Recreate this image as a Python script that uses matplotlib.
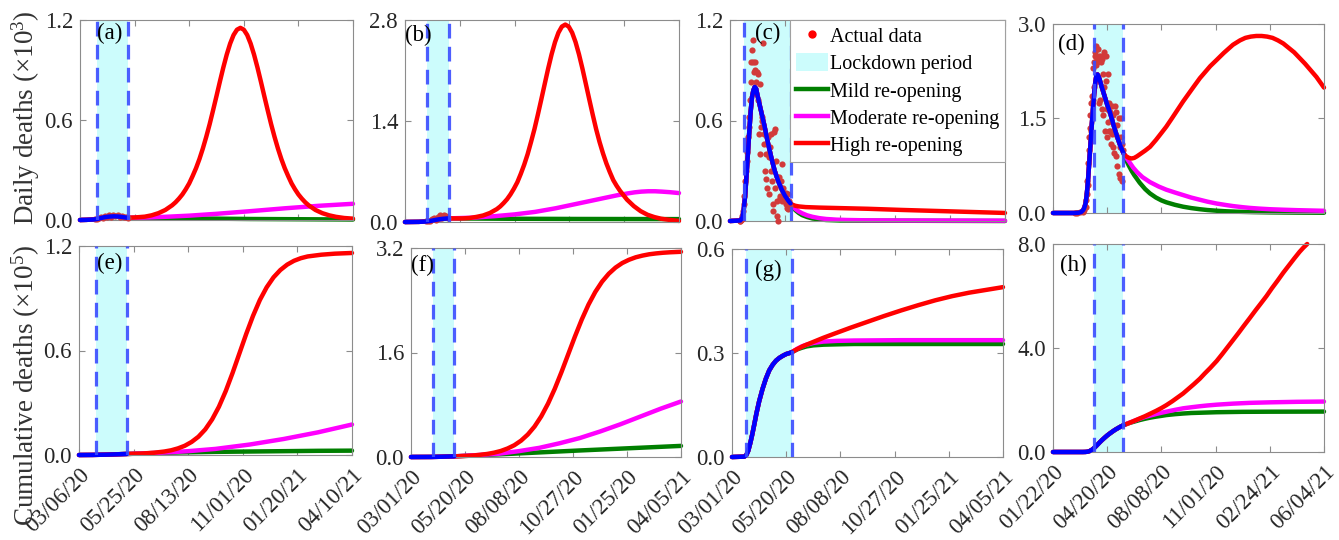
import numpy as np
import matplotlib
matplotlib.use('Agg')
import matplotlib.pyplot as plt
from matplotlib.lines import Line2D
from matplotlib.patches import Patch

plt.rcParams['font.family'] = ['Liberation Serif', 'DejaVu Serif']
plt.rcParams['mathtext.fontset'] = 'custom'
plt.rcParams['mathtext.rm'] = 'Liberation Serif'
plt.rcParams['mathtext.it'] = 'Liberation Serif:italic'

# ------------------------------------------------------------------ data
# x values are days since the first date on each panel's x axis
# daily deaths in units of 10^3, cumulative deaths in units of 10^5

# ---- column 1 (panels a, e)
a_fit_d = [0, 10, 20, 25, 30, 35, 40, 45, 50, 55, 60, 65, 70]
a_fit_v = [0.0, 0.001, 0.003, 0.006, 0.011, 0.016, 0.019, 0.021, 0.022, 0.021, 0.019, 0.016, 0.013]
a_data_d = [22, 25, 28, 31, 34, 37, 40, 43, 46, 49, 52, 55, 58, 61, 64, 67, 70]
a_data_v = [0.004, 0.008, 0.01, 0.018, 0.012, 0.025, 0.02, 0.03, 0.016, 0.028, 0.022, 0.03, 0.018, 0.026, 0.02, 0.015, 0.01]
a_mild_d = [70, 100, 150, 200, 250, 300, 350, 400]
a_mild_v = [0.013, 0.012, 0.01, 0.008, 0.006, 0.005, 0.004, 0.003]
a_mod_d = [70, 100, 130, 160, 200, 250, 300, 350, 400]
a_mod_v = [0.013, 0.015, 0.02, 0.026, 0.037, 0.053, 0.07, 0.085, 0.097]
a_high_d = [70, 80, 95, 105, 115, 125, 135, 140, 145, 150, 155, 160, 165, 170, 175, 180, 185, 190,
            195, 200, 205, 210, 215, 220, 225, 230, 235, 240, 245, 250, 255, 260, 265, 270, 275,
            280, 285, 290, 295, 300, 305, 310, 315, 320, 325, 330, 335, 345, 355, 365, 375, 387, 400]
a_high_v = [0.013, 0.015, 0.02, 0.028, 0.041, 0.06, 0.088, 0.106, 0.128, 0.153, 0.184, 0.219,
            0.263, 0.31, 0.365, 0.428, 0.498, 0.574, 0.657, 0.742, 0.829, 0.913, 0.99, 1.056,
            1.107, 1.139, 1.15, 1.139, 1.107, 1.056, 0.99, 0.913, 0.829, 0.742, 0.657, 0.574,
            0.498, 0.428, 0.365, 0.31, 0.263, 0.219, 0.184, 0.153, 0.128, 0.106, 0.088, 0.06,
            0.041, 0.028, 0.019, 0.012, 0.008]

e_fit_d = [0, 20, 40, 55, 70]
e_fit_v = [0.0, 0.0005, 0.002, 0.004, 0.006]
e_mild_d = [70, 100, 150, 200, 250, 300, 350, 400]
e_mild_v = [0.006, 0.01, 0.015, 0.018, 0.02, 0.022, 0.024, 0.025]
e_mod_d = [70, 100, 130, 160, 200, 250, 300, 350, 400]
e_mod_v = [0.006, 0.01, 0.015, 0.022, 0.035, 0.06, 0.092, 0.13, 0.175]
e_high_d = [70, 90, 110, 125, 135, 145, 155, 165, 175, 185, 195, 205, 215, 225, 235, 245, 255,
            265, 275, 285, 295, 305, 315, 325, 335, 355, 375, 400]
e_high_v = [0.006, 0.008, 0.013, 0.02, 0.027, 0.038, 0.053, 0.075, 0.105, 0.147, 0.204, 0.277,
            0.367, 0.471, 0.583, 0.695, 0.799, 0.89, 0.963, 1.02, 1.062, 1.093, 1.115, 1.13,
            1.14, 1.15, 1.156, 1.16]

# ---- column 2 (panels b, f)
b_fit_d = [0, 20, 30, 35, 40, 45, 50, 55, 60, 64]
b_fit_v = [0.0, 0.002, 0.006, 0.012, 0.02, 0.03, 0.038, 0.044, 0.048, 0.05]
b_data_d = [30, 33, 36, 39, 42, 45, 48, 51, 54, 57, 60, 63]
b_data_v = [0.01, 0.02, 0.015, 0.035, 0.05, 0.03, 0.07, 0.09, 0.06, 0.1, 0.08, 0.06]
b_mild_d = [64, 150, 250, 400]
b_mild_v = [0.05, 0.045, 0.042, 0.04]
b_mod_d = [64, 100, 130, 160, 190, 220, 250, 280, 310, 325, 335, 345, 355, 365, 375, 387, 400]
b_mod_v = [0.05, 0.06, 0.08, 0.105, 0.14, 0.19, 0.25, 0.31, 0.37, 0.395, 0.41, 0.42, 0.425,
           0.425, 0.42, 0.412, 0.40]
b_high_d = [64, 84, 94, 104, 114, 124, 134, 139, 144, 149, 154, 159, 164, 169, 174, 179, 184,
            189, 194, 199, 204, 209, 214, 219, 224, 229, 234, 239, 244, 249, 254, 259, 264, 269,
            274, 279, 284, 289, 294, 299, 304, 309, 314, 319, 324, 334, 344, 354, 364, 374, 387, 400]
b_high_v = [0.05, 0.05, 0.055, 0.07, 0.09, 0.125, 0.178, 0.215, 0.262, 0.315, 0.382, 0.461,
            0.55, 0.665, 0.792, 0.937, 1.107, 1.285, 1.486, 1.696, 1.91, 2.122, 2.318, 2.487,
            2.618, 2.702, 2.73, 2.702, 2.618, 2.487, 2.318, 2.122, 1.91, 1.696, 1.486, 1.285,
            1.107, 0.95, 0.81, 0.69, 0.58, 0.5, 0.43, 0.37, 0.31, 0.22, 0.15, 0.10, 0.068,
            0.045, 0.028, 0.015]

f_fit_d = [0, 30, 45, 64]
f_fit_v = [0.0, 0.001, 0.004, 0.01]
f_mild_d = [64, 150, 250, 400]
f_mild_v = [0.01, 0.05, 0.1, 0.17]
f_mod_d = [64, 100, 130, 160, 190, 220, 250, 280, 310, 340, 370, 400]
f_mod_v = [0.01, 0.03, 0.05, 0.09, 0.14, 0.21, 0.29, 0.39, 0.5, 0.62, 0.74, 0.85]
f_high_d = [64, 83, 93, 103, 113, 123, 133, 143, 153, 163, 173, 183, 193, 203, 213, 223, 233,
            243, 253, 263, 273, 283, 293, 303, 313, 323, 333, 343, 353, 363, 373, 383, 400]
f_high_v = [0.01, 0.017, 0.024, 0.034, 0.047, 0.066, 0.092, 0.13, 0.18, 0.25, 0.344, 0.466,
            0.623, 0.817, 1.045, 1.302, 1.575, 1.848, 2.105, 2.334, 2.527, 2.684, 2.806, 2.9,
            2.97, 3.02, 3.058, 3.084, 3.104, 3.117, 3.127, 3.134, 3.142]

# ---- column 3 (panels c, g)
c_fit_d = [0, 15, 18, 20, 22, 24, 26, 28, 30, 32, 34, 36, 38, 40, 45, 50, 55, 60, 65, 70, 75, 80, 85, 88]
c_fit_v = [0.0, 0.003, 0.02, 0.07, 0.15, 0.27, 0.4, 0.53, 0.65, 0.74, 0.78, 0.80, 0.79, 0.75,
           0.66, 0.57, 0.47, 0.38, 0.30, 0.24, 0.19, 0.15, 0.12, 0.105]
c_data_d = list(range(14, 88))
c_data_v = [0.0, 0.0, 0.005, 0.01, 0.03, 0.06, 0.10, 0.15, 0.24, 0.30, 0.41, 0.36, 0.50, 0.56,
            0.62, 0.72, 0.83, 0.95, 1.02, 1.08, 0.95, 0.89, 0.95, 0.90, 0.83, 0.89, 0.88, 0.72,
            0.52, 0.40, 0.82, 0.56, 0.60, 0.62, 1.06, 0.46, 0.52, 0.30, 0.40, 0.25, 0.20, 0.50,
            0.38, 0.16, 0.44, 0.52, 0.30, 0.24, 0.06, 0.10, 0.53, 0.20, 0.55, 0.36, 0.12, 0.03,
            0.0, 0.26, 0.15, 0.14, 0.24, 0.34, 0.12, 0.20, 0.14, 0.16, 0.12, 0.17, 0.10, 0.08,
            0.16, 0.07, 0.12, 0.09]
c_mild_d = [88, 91, 95, 100, 105, 112, 120, 130, 140, 160, 200, 400]
c_mild_v = [0.105, 0.085, 0.065, 0.048, 0.035, 0.024, 0.015, 0.01, 0.006, 0.003, 0.002, 0.0]
c_mod_d = [88, 91, 95, 100, 105, 112, 120, 130, 140, 155, 170, 200, 250, 400]
c_mod_v = [0.105, 0.088, 0.072, 0.057, 0.046, 0.034, 0.025, 0.017, 0.012, 0.008, 0.006, 0.004, 0.003, 0.002]
c_high_d = [88, 91, 95, 100, 110, 130, 150, 200, 250, 300, 350, 400]
c_high_v = [0.105, 0.097, 0.091, 0.087, 0.083, 0.08, 0.078, 0.073, 0.066, 0.06, 0.054, 0.048]

g_fit_d = [0, 18, 21, 24, 27, 30, 33, 36, 40, 45, 50, 55, 60, 65, 70, 75, 80, 85, 88]
g_fit_v = [0.0, 0.001, 0.005, 0.018, 0.04, 0.066, 0.095, 0.125, 0.16, 0.196, 0.226, 0.25,
           0.266, 0.278, 0.286, 0.292, 0.297, 0.3, 0.302]
g_mild_d = [88, 92, 97, 103, 110, 120, 135, 155, 180, 400]
g_mild_v = [0.302, 0.306, 0.311, 0.315, 0.319, 0.322, 0.324, 0.325, 0.326, 0.326]
g_mod_d = [88, 92, 97, 103, 110, 120, 135, 155, 180, 250, 400]
g_mod_v = [0.302, 0.307, 0.313, 0.319, 0.324, 0.329, 0.333, 0.335, 0.336, 0.337, 0.337]
g_high_d = [88, 95, 105, 120, 135, 150, 175, 200, 225, 250, 275, 300, 325, 350, 375, 400]
g_high_v = [0.302, 0.31, 0.32, 0.332, 0.344, 0.355, 0.373, 0.39, 0.407, 0.423, 0.438, 0.452,
            0.464, 0.474, 0.482, 0.49]

# ---- column 4 (panels d, h)
d_fit_d = [0, 40, 48, 52, 56, 58, 60, 62, 64, 66, 68, 70, 72, 74, 76, 78, 80, 82, 84, 86, 90,
           95, 100, 105, 110, 115, 120, 125, 130]
d_fit_v = [0.0, 0.0, 0.005, 0.015, 0.05, 0.09, 0.15, 0.27, 0.45, 0.69, 0.95, 1.2, 1.45, 1.68,
           1.9, 2.07, 2.18, 2.2, 2.17, 2.12, 2.0, 1.86, 1.72, 1.6, 1.45, 1.3, 1.17, 1.05, 0.95]
d_data_d = [40, 45, 50, 55, 58] + list(range(60, 130))
d_data_v = [0.0, 0.0, 0.01, 0.02, 0.05,
            0.1, 0.2, 0.3, 0.5, 0.45, 0.8, 1.0, 1.2, 1.35, 1.55, 1.3, 1.75, 1.85, 2.3, 1.8, 2.0,
            2.4, 2.5, 2.55, 2.35, 2.65, 2.4, 2.45, 2.6, 1.75, 2.5, 2.45, 1.8, 2.4, 2.5, 1.65, 2.45,
            2.2, 1.55, 2.0, 2.55, 1.3, 2.1, 2.5, 1.2, 1.65, 1.45, 2.2, 1.3, 1.75, 1.3, 1.6, 1.1,
            1.7, 1.25, 1.05, 1.55, 1.3, 0.95, 1.7, 1.25, 0.9, 1.6, 1.4, 0.75, 1.2, 1.5, 0.62, 1.05,
            0.55, 1.2, 1.5, 0.5, 1.1, 1.0]
d_mild_d = [130, 135, 140, 145, 150, 160, 170, 179, 190, 200, 209, 225, 240, 255, 271, 285, 302,
            320, 340, 370, 400, 450, 500]
d_mild_v = [0.95, 0.84, 0.75, 0.67, 0.6, 0.48, 0.38, 0.31, 0.245, 0.2, 0.17, 0.13, 0.1, 0.078,
            0.06, 0.047, 0.036, 0.027, 0.02, 0.014, 0.01, 0.006, 0.004]
d_mod_d = [130, 135, 140, 148, 155, 165, 179, 195, 209, 225, 240, 255, 271, 285, 302, 318, 332,
           350, 363, 380, 400, 425, 450, 475, 500]
d_mod_v = [0.95, 0.88, 0.82, 0.72, 0.65, 0.57, 0.49, 0.42, 0.37, 0.325, 0.285, 0.245, 0.21,
           0.18, 0.15, 0.128, 0.11, 0.092, 0.081, 0.07, 0.06, 0.052, 0.045, 0.04, 0.035]
d_high_d = [130, 135, 140, 145, 150, 155, 160, 170, 179, 190, 200, 209, 220, 230, 240, 250, 260,
            271, 280, 290, 302, 315, 332, 345, 355, 365, 375, 385, 395, 405, 415, 425, 435, 445,
            455, 465, 475, 486, 500]
d_high_v = [0.95, 0.9, 0.875, 0.865, 0.875, 0.9, 0.93, 0.99, 1.05, 1.16, 1.27, 1.37, 1.51, 1.64,
            1.77, 1.89, 2.01, 2.14, 2.23, 2.33, 2.43, 2.54, 2.67, 2.74, 2.78, 2.80, 2.81, 2.81,
            2.80, 2.78, 2.74, 2.69, 2.62, 2.55, 2.46, 2.37, 2.27, 2.16, 1.99]

h_fit_d = [0, 55, 60, 64, 68, 72, 76, 80, 86, 90, 95, 100, 105, 110, 115, 120, 125, 130]
h_fit_v = [0.0, 0.0, 0.003, 0.012, 0.04, 0.088, 0.155, 0.237, 0.367, 0.45, 0.545, 0.636, 0.715,
           0.79, 0.86, 0.92, 0.98, 1.03]
h_mild_d = [130, 140, 150, 160, 170, 179, 190, 200, 209, 225, 240, 255, 271, 302, 350, 400, 500]
h_mild_v = [1.03, 1.11, 1.17, 1.23, 1.28, 1.32, 1.36, 1.39, 1.42, 1.455, 1.48, 1.5, 1.51, 1.53,
            1.545, 1.55, 1.555]
h_mod_d = [130, 140, 150, 160, 170, 179, 190, 200, 209, 225, 240, 255, 271, 285, 302, 332, 363,
           400, 450, 500]
h_mod_v = [1.03, 1.12, 1.2, 1.28, 1.35, 1.4, 1.46, 1.51, 1.55, 1.62, 1.68, 1.72, 1.76, 1.79,
           1.82, 1.86, 1.89, 1.91, 1.93, 1.94]
h_high_d = [130, 140, 150, 160, 170, 179, 190, 200, 209, 220, 230, 240, 250, 260, 271, 280, 290,
            302, 312, 322, 332, 342, 352, 363, 373, 383, 394, 404, 414, 425, 435, 445, 455, 462, 469]
h_high_v = [1.03, 1.11, 1.2, 1.29, 1.38, 1.47, 1.58, 1.69, 1.8, 1.95, 2.1, 2.25, 2.43, 2.61,
            2.82, 3.02, 3.23, 3.5, 3.76, 4.03, 4.3, 4.57, 4.85, 5.15, 5.43, 5.7, 6.0, 6.3, 6.58,
            6.9, 7.17, 7.44, 7.7, 7.86, 8.0]

# lockdown periods (days) and x spans
lock_1, lock_2, lock_3, lock_4 = (25, 70), (32, 64), (20, 88), (76, 130)
span_1, span_2, span_3, span_4 = 400, 400, 400, 500

xlabels_1 = ['03/06/20', '05/25/20', '08/13/20', '11/01/20', '01/20/21', '04/10/21']
xlabels_2 = ['03/01/20', '05/20/20', '08/08/20', '10/27/20', '01/25/20', '04/05/21']
xlabels_3 = ['03/01/20', '05/20/20', '08/08/20', '10/27/20', '01/25/21', '04/05/21']
xlabels_4 = ['01/22/20', '04/20/20', '08/08/20', '11/01/20', '02/24/21', '06/04/21']

yticks_a, yticks_b, yticks_c, yticks_d = [0, 0.6, 1.2], [0, 1.4, 2.8], [0, 0.6, 1.2], [0, 1.5, 3.0]
yticks_e, yticks_f, yticks_g, yticks_h = [0, 0.6, 1.2], [0, 1.6, 3.2], [0, 0.3, 0.6], [0, 4.0, 8.0]

legend_labels = ['Actual data', 'Lockdown period', 'Mild re-opening', 'Moderate re-opening', 'High re-opening']

# ------------------------------------------------------------------ style
RED, MAGENTA, GREEN, BLUE = '#ff0000', '#ff00ff', '#007f00', '#0000ff'
CYAN = '#ccfcfc'
DASH = '#3a4cff'
DOT = '#d23a3a'
SPINE = '#8c8c8c'
TXT = '#262626'
LW = 3.2
FS = 16.5

W, H = 1339, 540
fig = plt.figure(figsize=(W / 100, H / 100), dpi=100)


def box(l, r, t, b):
    return [l / W, 1 - b / H, (r - l) / W, (b - t) / H]


def panel(rect, span, lock, fit, mild, mod, high, yticks, xlabels, tag, tagpos, data=None, bottom=False):
    ax = fig.add_axes(rect)
    ax.axvspan(lock[0], lock[1], color=CYAN, lw=0, zorder=0)
    for (dd, vv), col in ((mild, GREEN), (mod, MAGENTA), (high, RED)):
        ax.plot(np.concatenate([fit[0], dd]), np.concatenate([fit[1], vv]), color=col, lw=LW,
                clip_on=False, solid_capstyle='round', solid_joinstyle='round', zorder=2)
    if data is not None:
        ax.scatter(data[0], data[1], s=20, color=DOT, lw=0, zorder=3, clip_on=False)
    ax.plot(fit[0], fit[1], color=BLUE, lw=LW, clip_on=False, solid_capstyle='round',
            solid_joinstyle='round', zorder=4)
    for x in lock:
        ax.axvline(x, color=DASH, lw=2.3, dashes=(4.6, 2.6), zorder=5, alpha=0.9)
    ax.set_xlim(0, span)
    ax.set_ylim(yticks[0], yticks[-1])
    ax.set_yticks(yticks)
    ax.set_yticklabels(['%.1f' % v for v in yticks])
    ax.set_xticks(np.linspace(0, span, 6))
    if bottom:
        ax.set_xticklabels(xlabels, rotation=45, ha='right', va='top', rotation_mode='anchor')
    else:
        ax.set_xticklabels([])
    ax.tick_params(direction='in', length=4, width=0.8, color=SPINE, top=True, right=True,
                   labelsize=FS, labelcolor=TXT)
    ax.tick_params(axis='y', pad=5)
    ax.tick_params(axis='x', pad=7)
    for s in ax.spines.values():
        s.set_color(SPINE)
        s.set_linewidth(0.8)
    ax.text(tagpos[0], tagpos[1], tag, transform=ax.transAxes, ha='left', va='top',
            fontsize=FS, color='black', zorder=6)
    return ax


panel(box(80, 353, 19.5, 220), span_1, lock_1, (a_fit_d, a_fit_v), (a_mild_d, a_mild_v),
      (a_mod_d, a_mod_v), (a_high_d, a_high_v), yticks_a, xlabels_1, '(a)', (0.062, 0.985),
      data=(a_data_d, a_data_v))
panel(box(405, 679, 19.5, 222), span_2, lock_2, (b_fit_d, b_fit_v), (b_mild_d, b_mild_v),
      (b_mod_d, b_mod_v), (b_high_d, b_high_v), yticks_b, xlabels_2, '(b)', (0.0, 0.975),
      data=(b_data_d, b_data_v))
axc = panel(box(730, 1005, 20, 221), span_3, lock_3, (c_fit_d, c_fit_v), (c_mild_d, c_mild_v),
            (c_mod_d, c_mod_v), (c_high_d, c_high_v), yticks_c, xlabels_3, '(c)', (0.092, 0.985),
            data=(c_data_d, c_data_v))
panel(box(1053, 1324, 24, 213), span_4, lock_4, (d_fit_d, d_fit_v), (d_mild_d, d_mild_v),
      (d_mod_d, d_mod_v), (d_high_d, d_high_v), yticks_d, xlabels_4, '(d)', (0.02, 0.95),
      data=(d_data_d, d_data_v))

panel(box(79, 352, 246, 455), span_1, lock_1, (e_fit_d, e_fit_v), (e_mild_d, e_mild_v),
      (e_mod_d, e_mod_v), (e_high_d, e_high_v), yticks_e, xlabels_1, '(e)', (0.066, 0.965), bottom=True)
panel(box(411, 681, 248, 457), span_2, lock_2, (f_fit_d, f_fit_v), (f_mild_d, f_mild_v),
      (f_mod_d, f_mod_v), (f_high_d, f_high_v), yticks_f, xlabels_2, '(f)', (0.0, 0.965), bottom=True)
panel(box(732, 1003, 249, 457), span_3, lock_3, (g_fit_d, g_fit_v), (g_mild_d, g_mild_v),
      (g_mod_d, g_mod_v), (g_high_d, g_high_v), yticks_g, xlabels_3, '(g)', (0.085, 0.95), bottom=True)
panel(box(1053, 1324, 244, 452), span_4, lock_4, (h_fit_d, h_fit_v), (h_mild_d, h_mild_v),
      (h_mod_d, h_mod_v), (h_high_d, h_high_v), yticks_h, xlabels_4, '(h)', (0.024, 0.95), bottom=True)

handles = [Line2D([], [], ls='', marker='o', ms=5, color=RED),
           Patch(facecolor=CYAN, edgecolor='none'),
           Line2D([], [], color=GREEN, lw=LW),
           Line2D([], [], color=MAGENTA, lw=LW),
           Line2D([], [], color=RED, lw=LW)]
leg = axc.legend(handles, legend_labels, loc='upper right', borderaxespad=0, fontsize=14.5,
                 handlelength=1.55, handletextpad=0.1, labelspacing=0.32, borderpad=0.3,
                 fancybox=False, framealpha=1, edgecolor='#a0a0a0', handleheight=1.0)
leg.get_frame().set_linewidth(0.8)
leg.set_zorder(10)

fig.text(26 / W, 1 - 118 / H, 'Daily deaths (×$10^3$)', rotation=90, ha='center', va='center',
         fontsize=19.5, color='#333333')
fig.text(26 / W, 1 - 385 / H, 'Cumulative deaths (×$10^5$)', rotation=90, ha='center', va='center',
         fontsize=19.5, color='#333333')

fig.savefig('out.png', dpi=100)
